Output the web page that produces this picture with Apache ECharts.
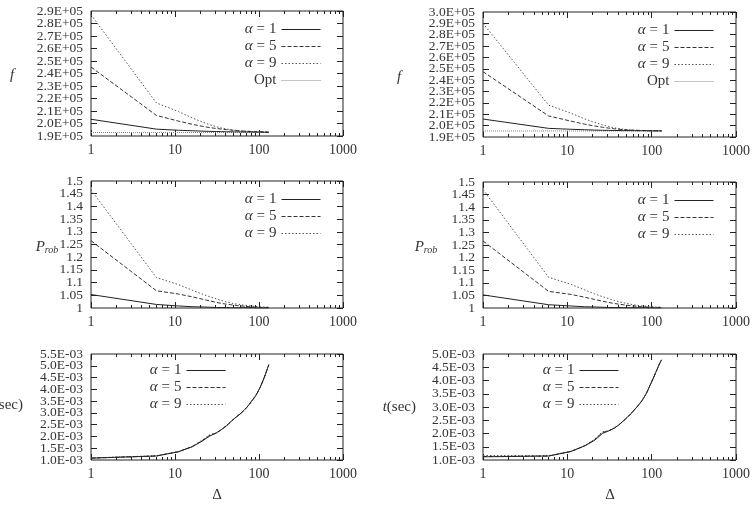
<!DOCTYPE html>
<html><head><meta charset="utf-8">
<script src="https://cdn.jsdelivr.net/npm/echarts@6/dist/echarts.min.js"></script>
<style>html,body{margin:0;padding:0;background:#fff}#c{width:753px;height:505px}</style>
</head><body><div id="c"></div>
<script>
// Δ values (x)
const deltas = [1,6,11,16,21,26,31,36,41,46,51,56,61,66,71,76,81,86,91,96,101,106,111,116,121,126,131];
const xTickLabels = ['1','10','100','1000'];
const minorTicks = [2,3,4,5,6,7,8,9,20,30,40,50,60,70,80,90,200,300,400,500,600,700,800,900];
const seriesNames = ['α = 1','α = 5','α = 9','Opt'];

// f, left
const fLeftA1 = [203400,195500,194600,194200,193900,193700,193600,193500,193400,193400,193300,193300,193300,193200,193200,193200,193200,193100,193100,193100,193100,193100,193100,193000,193000,193000,193000];
const fLeftA5 = [245200,206500,201900,199400,197800,196700,196000,195500,195100,194800,194500,194300,194100,193900,193800,193700,193600,193500,193500,193400,193400,193300,193300,193200,193200,193100,193100];
const fLeftA9 = [287000,216500,209500,204500,201200,199000,197500,196300,195600,195000,194600,194300,194000,193900,193800,193700,193600,193500,193500,193400,193400,193300,193300,193300,193200,193200,193100];
const fLeftOpt = [192800,192800,192800,192800,192800,192800,192800,192800,192800,192800,192800,192800,192800,192800,192800,192800,192800,192800,192800,192800,192800,192800,192800,192800,192800,192800,192800];
// f, right
const fRightA1 = [205800,197600,196800,196400,196100,195900,195800,195700,195700,195600,195600,195600,195500,195500,195500,195500,195500,195500,195400,195400,195400,195400,195400,195400,195400,195400,195400];
const fRightA5 = [247500,208500,204000,201300,199700,198600,197800,197200,196800,196500,196300,196100,196000,195900,195800,195700,195700,195600,195600,195600,195500,195500,195500,195500,195400,195400,195400];
const fRightA9 = [290000,218000,211000,206000,202800,200700,199200,198100,197400,196900,196500,196200,196000,195900,195800,195700,195700,195600,195600,195600,195500,195500,195500,195500,195400,195400,195400];
const fRightOpt = [195300,195300,195300,195300,195300,195300,195300,195300,195300,195300,195300,195300,195300,195300,195300,195300,195300,195300,195300,195300,195300,195300,195300,195300,195300,195300,195300];
// P_rob, left
const pLeftA1 = [1.053,1.014,1.008,1.005,1.004,1.003,1.002,1.002,1.002,1.001,1.001,1.001,1.001,1.001,1.001,1.001,1.001,1.001,1.000,1.000,1.000,1.000,1.000,1.000,1.000,1.000,1.000];
const pLeftA5 = [1.265,1.068,1.055,1.044,1.035,1.028,1.022,1.018,1.015,1.013,1.011,1.009,1.008,1.007,1.006,1.005,1.005,1.004,1.004,1.003,1.003,1.003,1.002,1.002,1.002,1.002,1.002];
const pLeftA9 = [1.465,1.120,1.092,1.070,1.055,1.044,1.036,1.029,1.024,1.020,1.017,1.015,1.013,1.011,1.010,1.009,1.008,1.007,1.006,1.006,1.005,1.005,1.004,1.004,1.004,1.003,1.003];
// P_rob, right
const pRightA1 = [1.052,1.013,1.008,1.005,1.004,1.003,1.002,1.002,1.002,1.001,1.001,1.001,1.001,1.001,1.001,1.001,1.001,1.001,1.000,1.000,1.000,1.000,1.000,1.000,1.000,1.000,1.000];
const pRightA5 = [1.266,1.066,1.054,1.043,1.034,1.027,1.022,1.018,1.015,1.013,1.011,1.009,1.008,1.007,1.006,1.005,1.005,1.004,1.004,1.003,1.003,1.003,1.002,1.002,1.002,1.002,1.002];
const pRightA9 = [1.470,1.122,1.094,1.072,1.056,1.045,1.037,1.030,1.025,1.021,1.018,1.015,1.013,1.011,1.010,1.009,1.008,1.007,1.006,1.006,1.005,1.005,1.004,1.004,1.004,1.003,1.003];
// t (sec), left
const tLeftA1 = [1.08e-3,1.17e-3,1.35e-3,1.56e-3,1.80e-3,2.02e-3,2.15e-3,2.30e-3,2.45e-3,2.62e-3,2.76e-3,2.88e-3,2.98e-3,3.10e-3,3.22e-3,3.35e-3,3.48e-3,3.60e-3,3.72e-3,3.86e-3,4.02e-3,4.18e-3,4.35e-3,4.52e-3,4.70e-3,4.88e-3,5.05e-3];
const tLeftA5 = [1.08e-3,1.17e-3,1.35e-3,1.57e-3,1.82e-3,2.05e-3,2.14e-3,2.30e-3,2.45e-3,2.62e-3,2.76e-3,2.88e-3,2.99e-3,3.10e-3,3.22e-3,3.35e-3,3.48e-3,3.60e-3,3.72e-3,3.86e-3,4.02e-3,4.18e-3,4.35e-3,4.52e-3,4.70e-3,4.88e-3,5.05e-3];
const tLeftA9 = [1.09e-3,1.18e-3,1.36e-3,1.57e-3,1.84e-3,2.08e-3,2.14e-3,2.31e-3,2.46e-3,2.62e-3,2.77e-3,2.88e-3,2.99e-3,3.11e-3,3.22e-3,3.35e-3,3.48e-3,3.61e-3,3.73e-3,3.87e-3,4.02e-3,4.18e-3,4.35e-3,4.52e-3,4.70e-3,4.88e-3,5.04e-3];
// t (sec), right
const tRightA1 = [1.12e-3,1.15e-3,1.32e-3,1.53e-3,1.74e-3,2.00e-3,2.10e-3,2.20e-3,2.33e-3,2.47e-3,2.60e-3,2.73e-3,2.86e-3,2.98e-3,3.10e-3,3.22e-3,3.36e-3,3.50e-3,3.66e-3,3.83e-3,3.98e-3,4.13e-3,4.28e-3,4.42e-3,4.56e-3,4.68e-3,4.78e-3];
const tRightA5 = [1.13e-3,1.15e-3,1.32e-3,1.53e-3,1.76e-3,2.04e-3,2.10e-3,2.20e-3,2.33e-3,2.47e-3,2.60e-3,2.73e-3,2.86e-3,2.98e-3,3.10e-3,3.22e-3,3.36e-3,3.50e-3,3.66e-3,3.83e-3,3.98e-3,4.13e-3,4.28e-3,4.42e-3,4.56e-3,4.68e-3,4.78e-3];
const tRightA9 = [1.17e-3,1.16e-3,1.33e-3,1.54e-3,1.78e-3,2.06e-3,2.11e-3,2.21e-3,2.33e-3,2.47e-3,2.60e-3,2.73e-3,2.86e-3,2.98e-3,3.10e-3,3.22e-3,3.36e-3,3.50e-3,3.66e-3,3.83e-3,3.98e-3,4.13e-3,4.28e-3,4.42e-3,4.56e-3,4.68e-3,4.78e-3];

const FONT = 'Liberation Serif';
const TXT = '#333';

function sci(v){
  if (v === 0) return '0';
  let e = Math.floor(Math.log10(Math.abs(v)) + 1e-9);
  let m = v / Math.pow(10, e);
  return m.toFixed(1) + 'E' + (e < 0 ? '-' : '+') + String(Math.abs(e)).padStart(2, '0');
}
function dec(v){ return parseFloat(v.toFixed(2)).toString(); }

const panels = [
  {grid:{left:91, top:11, width:252, height:125}, ymin:190000, ymax:290000, yint:10000, fmt:sci,
   data:[fLeftA1,fLeftA5,fLeftA9,fLeftOpt], legend:{right:427, top:17}},
  {grid:{left:483, top:12, width:253, height:125}, ymin:190000, ymax:300000, yint:10000, fmt:sci,
   data:[fRightA1,fRightA5,fRightA9,fRightOpt], legend:{right:34, top:18}},
  {grid:{left:91, top:181, width:252, height:127}, ymin:1, ymax:1.5, yint:0.05, fmt:dec,
   data:[pLeftA1,pLeftA5,pLeftA9], legend:{right:427, top:187}},
  {grid:{left:483, top:182, width:253, height:126}, ymin:1, ymax:1.5, yint:0.05, fmt:dec,
   data:[pRightA1,pRightA5,pRightA9], legend:{right:34, top:188}},
  {grid:{left:91, top:354, width:252, height:106}, ymin:0.001, ymax:0.0055, yint:0.0005, fmt:sci,
   data:[tLeftA1,tLeftA5,tLeftA9], legend:{right:522, top:358}},
  {grid:{left:483, top:354, width:253, height:106}, ymin:0.001, ymax:0.005, yint:0.0005, fmt:sci,
   data:[tRightA1,tRightA5,tRightA9], legend:{right:129, top:358}},
];

const lineStyles = [
  {color:'#222', width:1, type:'solid'},
  {color:'#333', width:1, type:[4,2]},
  {color:'#555', width:1, type:[1.5,2]},
  {color:'#888', width:1, type:[1,1]},
];

const grid = [], xAxis = [], yAxis = [], series = [], legend = [];
panels.forEach((p, g) => {
  grid.push(Object.assign({show:true, borderColor:'#222', borderWidth:1, backgroundColor:'transparent'}, p.grid));
  const xBase = {type:'log', logBase:10, min:1, max:1000, gridIndex:g, splitLine:{show:false}, axisLine:{show:false}};
  xAxis.push(Object.assign({}, xBase, {position:'bottom',
    axisTick:{inside:true, length:6, lineStyle:{color:'#222'}},
    axisLabel:{fontFamily:FONT, fontSize:14, color:TXT, margin:7, showMinLabel:true, showMaxLabel:true,
      formatter:v => xTickLabels[Math.round(Math.log10(v))]}}));
  xAxis.push(Object.assign({}, xBase, {position:'bottom',
    axisTick:{inside:true, length:3, customValues:minorTicks, lineStyle:{color:'#222'}}, axisLabel:{show:false}}));
  xAxis.push(Object.assign({}, xBase, {position:'top',
    axisTick:{inside:true, length:6, lineStyle:{color:'#222'}}, axisLabel:{show:false}}));
  xAxis.push(Object.assign({}, xBase, {position:'top',
    axisTick:{inside:true, length:3, customValues:minorTicks, lineStyle:{color:'#222'}}, axisLabel:{show:false}}));
  const yBase = {type:'value', min:p.ymin, max:p.ymax, interval:p.yint, gridIndex:g, splitLine:{show:false}, axisLine:{show:false}};
  const labelStyle = {fontFamily:FONT, fontSize:13.5, color:TXT, margin:8, formatter:p.fmt};
  // interior labels + ticks
  yAxis.push(Object.assign({}, yBase, {position:'left',
    axisTick:{inside:true, length:6, lineStyle:{color:'#222'}},
    axisLabel:Object.assign({}, labelStyle)}));
  // end labels (min and max)
  yAxis.push(Object.assign({}, yBase, {position:'left', axisTick:{show:false},
    axisLabel:Object.assign({}, labelStyle, {customValues:[p.ymin, p.ymax], showMinLabel:true, showMaxLabel:true})}));
  // mirrored ticks on right
  yAxis.push(Object.assign({}, yBase, {position:'right',
    axisTick:{inside:true, length:6, lineStyle:{color:'#222'}}, axisLabel:{show:false}}));
  p.data.forEach((arr, k) => {
    series.push({
      type:'line', name:seriesNames[k], xAxisIndex:4*g, yAxisIndex:3*g,
      data:deltas.map((d, i) => [d, arr[i]]),
      symbol:'none', showSymbol:false, lineStyle:lineStyles[k], itemStyle:{color:lineStyles[k].color},
      silent:true, animation:false, z:10-k
    });
  });
  legend.push({
    orient:'vertical', align:'right', right:p.legend.right, top:p.legend.top,
    itemWidth:39, itemHeight:12, itemGap:2, selectedMode:false,
    itemStyle:{opacity:0}, lineStyle:{width:1},
    data:seriesNames.slice(0, p.data.length),
    formatter:n => n === 'Opt' ? '{o|Opt}' : '{i|α}{e|=}{o|' + n.split('= ')[1] + '}',
    textStyle:{fontFamily:FONT, fontSize:15, color:TXT,
      rich:{
        i:{fontFamily:FONT, fontSize:15, fontStyle:'italic', color:TXT},
        e:{fontFamily:FONT, fontSize:15, color:TXT, padding:[0,4,0,4]},
        o:{fontFamily:FONT, fontSize:15, color:TXT}
      }}
  });
});

function txt(x, y, rich, text, align){
  return {type:'text', x:x, y:y, style:{text:text, rich:rich, fill:TXT, font:'15px "' + FONT + '"', align:align||'center', verticalAlign:'middle'}};
}
const richP = {
  P:{fontFamily:FONT, fontSize:15, fontStyle:'italic', fill:TXT, color:TXT},
  s:{fontFamily:FONT, fontSize:10, fontStyle:'italic', fill:TXT, color:TXT, padding:[6,0,0,0]}
};
const richI = {i:{fontFamily:FONT, fontSize:15, fontStyle:'italic', color:TXT}, n:{fontFamily:FONT, fontSize:15, color:TXT}};
const graphic = [
  txt(12, 75, richI, '{i|f}'),
  txt(399, 77, richI, '{i|f}'),
  txt(47, 247, richP, '{P|P}{s|rob}'),
  txt(426, 247, richP, '{P|P}{s|rob}'),
  txt(23, 405, richI, '{i|t}{n|(sec)}', 'right'),
  txt(416, 407, richI, '{i|t}{n|(sec)}', 'right'),
  txt(217, 495, richI, '{n|Δ}'),
  txt(610, 495, richI, '{n|Δ}'),
];

const chart = echarts.init(document.getElementById('c'), null, {renderer:'canvas'});
chart.setOption({animation:false, backgroundColor:'#fff', grid, xAxis, yAxis, series, legend, graphic});
</script>
</body></html>
